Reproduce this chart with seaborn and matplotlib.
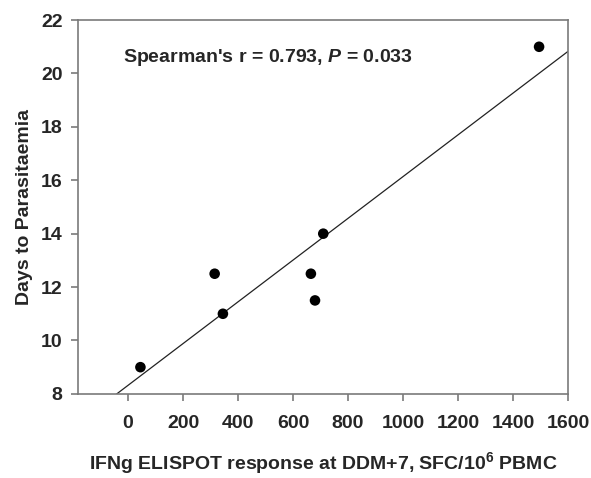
import matplotlib
matplotlib.use("Agg")
import matplotlib.pyplot as plt
import seaborn as sns
import pandas as pd

# values
elispot = [45, 315, 345, 665, 680, 710, 1495]
days = [9.0, 12.5, 11.0, 12.5, 11.5, 14.0, 21.0]
xticks = [0, 200, 400, 600, 800, 1000, 1200, 1400, 1600]
yticks = [8, 10, 12, 14, 16, 18, 20, 22]

df = pd.DataFrame({"ifng": elispot, "days": days})

sns.set_style("white")
plt.rcParams["font.family"] = ["Liberation Sans", "DejaVu Sans"]
plt.rcParams["mathtext.fontset"] = "custom"
plt.rcParams["mathtext.rm"] = "Liberation Sans:bold"
plt.rcParams["mathtext.bf"] = "Liberation Sans:bold"
plt.rcParams["mathtext.it"] = "Liberation Sans:italic:bold"

fig = plt.figure(figsize=(5.91, 4.78), dpi=100)
ax = fig.add_axes([0.132, 0.176, 0.829, 0.782])
ax.set_xlim(-182, 1600)
ax.set_ylim(8, 22)

sns.regplot(data=df, x="ifng", y="days", ax=ax, ci=None, truncate=False,
            scatter_kws=dict(s=58, color="black", alpha=1, edgecolors="none", zorder=3),
            line_kws=dict(color="#222222", lw=0.9))

ax.set_xlim(-182, 1600)
ax.set_ylim(8, 22)
ax.set_xticks(xticks)
ax.set_yticks(yticks)

for s in ax.spines.values():
    s.set_color("#7a7a7a")
    s.set_linewidth(1.2)
ax.tick_params(axis="both", direction="out", length=5, width=1.2, color="#7a7a7a",
               labelsize=14, bottom=True, left=True)
ax.tick_params(axis="x", pad=10)
ax.tick_params(axis="y", pad=6)
for lab in ax.get_xticklabels() + ax.get_yticklabels():
    lab.set_fontweight("bold")

ax.set_xlabel("IFNg ELISPOT response at DDM+7, SFC/10$^{6}$ PBMC",
              fontsize=14, fontweight="bold", labelpad=13)
ax.set_ylabel("Days to Parasitaemia", fontsize=14, fontweight="bold", labelpad=6)

ax.text(0.092, 0.901, "Spearman's r = 0.793, $P$ = 0.033", transform=ax.transAxes,
        fontsize=14, fontweight="bold", va="center", ha="left")

fig.savefig("out.png", dpi=100)
